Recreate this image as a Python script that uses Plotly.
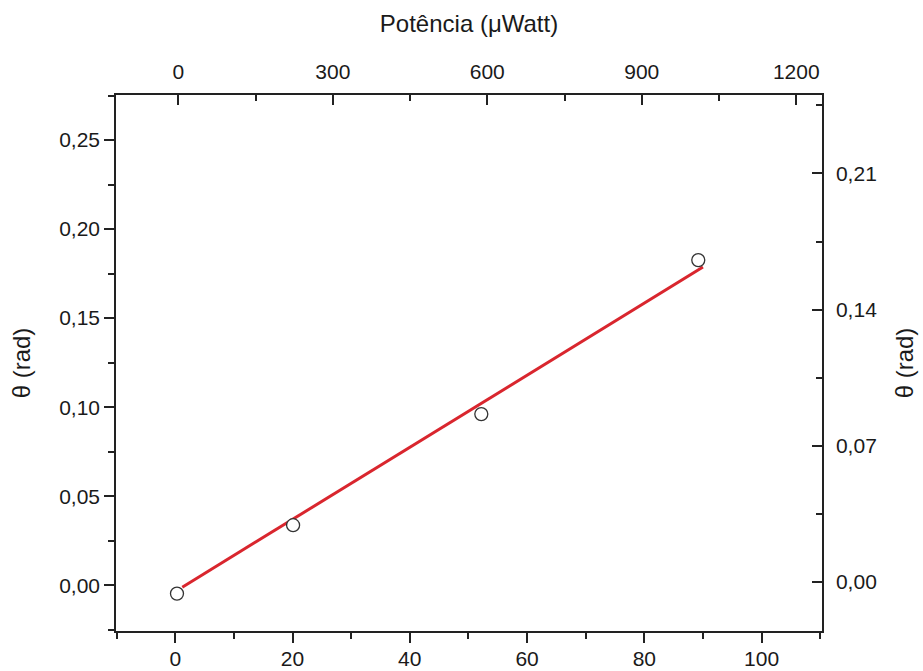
import plotly.graph_objects as go

# Data
x_points = [0.3, 20.1, 52.2, 89.2]          # bottom axis units
y_points = [-0.0047, 0.0337, 0.0961, 0.1826]  # θ (rad), left axis
fit_x = [1.2, 90.0]
fit_y = [-0.0011, 0.1787]

bottom_range = [-10.1, 110.3]
top_range = [-121, 1250]
left_range = [-0.0257, 0.2753]
right_range = [-0.0252, 0.2503]

top_ticks = [0, 300, 600, 900, 1200]
left_ticks = [0.00, 0.05, 0.10, 0.15, 0.20, 0.25]
right_ticks = [0.00, 0.07, 0.14, 0.21]

FONT = "Liberation Sans, Arial, sans-serif"
AX = "#222222"
TXT = "#1a1a1a"

fig = go.Figure()
fig.add_trace(go.Scatter(x=fit_x, y=fit_y, mode="lines",
                         line=dict(color="#d9262e", width=3),
                         showlegend=False, hoverinfo="skip"))
fig.add_trace(go.Scatter(x=x_points, y=y_points, mode="markers",
                         marker=dict(symbol="circle", size=13, color="white",
                                     line=dict(color="#333333", width=1.3)),
                         showlegend=False))
# invisible traces to activate secondary axes
fig.add_trace(go.Scatter(x=[None], y=[None], xaxis="x2", yaxis="y", showlegend=False))
fig.add_trace(go.Scatter(x=[None], y=[None], xaxis="x", yaxis="y2", showlegend=False))

tickfont = dict(family=FONT, size=21, color=TXT)
titlefont = dict(family=FONT, size=24, color=TXT)

fig.update_layout(
    width=923, height=671,
    margin=dict(l=116, r=101, t=95, b=40, autoexpand=False),
    paper_bgcolor="white", plot_bgcolor="white",
    separators=",.",
    showlegend=False,
    xaxis=dict(range=bottom_range, dtick=20, tick0=0, showgrid=False, zeroline=False,
               automargin=False,
               showline=True, linecolor=AX, linewidth=1.5,
               ticks="outside", ticklen=10, tickwidth=1.5, tickcolor=AX,
               minor=dict(dtick=10, tick0=0, ticks="outside", ticklen=6, tickwidth=1.5, tickcolor=AX),
               ticklabelstandoff=-2,
               tickfont=tickfont),
    xaxis2=dict(range=top_range, overlaying="x", side="top", anchor="y",
                automargin=False,
                tickvals=top_ticks, tickformat="d", showgrid=False, zeroline=False,
                showline=True, linecolor=AX, linewidth=1.5,
                ticks="inside", ticklen=10, tickwidth=1.5, tickcolor=AX,
                minor=dict(dtick=150, tick0=0, ticks="inside", ticklen=6, tickwidth=1.5, tickcolor=AX),
                ticklabelstandoff=6,
                tickfont=tickfont,
                title=dict(text="Potência (μWatt)", font=titlefont, standoff=20)),
    yaxis=dict(range=left_range, tickvals=left_ticks, tickformat=".2f", showgrid=False, zeroline=False,
               automargin=False,
               showline=True, linecolor=AX, linewidth=1.5,
               ticks="outside", ticklen=10, tickwidth=1.5, tickcolor=AX,
               minor=dict(dtick=0.025, tick0=0, ticks="outside", ticklen=6, tickwidth=1.5, tickcolor=AX),
               tickfont=tickfont,
               title=dict(text="θ (rad)", font=titlefont, standoff=22)),
    yaxis2=dict(range=right_range, overlaying="y", side="right", anchor="x",
                automargin=False,
                tickvals=right_ticks, tickformat=".2f", showgrid=False, zeroline=False,
                showline=True, linecolor=AX, linewidth=1.5,
                ticks="inside", ticklen=10, tickwidth=1.5, tickcolor=AX,
                minor=dict(dtick=0.035, tick0=0, ticks="inside", ticklen=6, tickwidth=1.5, tickcolor=AX),
                ticklabelstandoff=8,
                tickfont=tickfont,
                title=dict(text="θ (rad)", font=titlefont, standoff=20)),
)

fig.write_html("out.html")
